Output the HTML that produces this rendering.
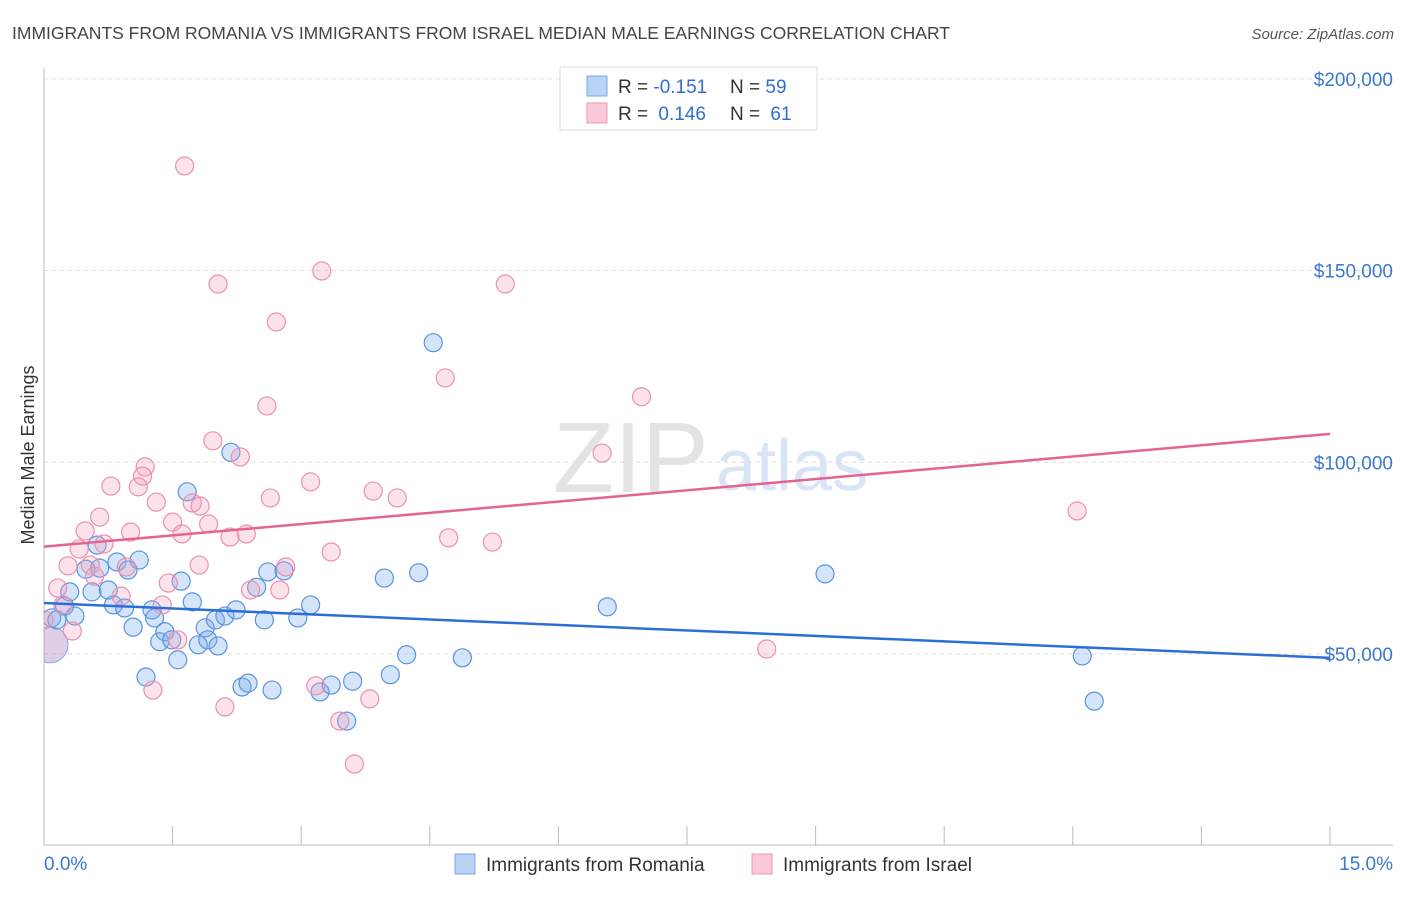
<!DOCTYPE html>
<html><head><meta charset="utf-8"><style>
body{margin:0;background:#fff;font-family:"Liberation Sans",sans-serif;}
svg text{font-family:"Liberation Sans",sans-serif;}
</style></head><body>
<svg id="chart" width="1406" height="892" xmlns="http://www.w3.org/2000/svg">
<defs><clipPath id="plotclip"><rect x="44" y="60" width="1360" height="786"/></clipPath></defs>
<text x="12" y="39" font-size="17.5" fill="#444">IMMIGRANTS FROM ROMANIA VS IMMIGRANTS FROM ISRAEL MEDIAN MALE EARNINGS CORRELATION CHART</text>
<text x="1394" y="39" font-size="15" fill="#555" font-style="italic" text-anchor="end">Source: ZipAtlas.com</text>
<g>
<text x="553" y="492" font-size="100" fill="#ddd" font-family="Liberation Serif" opacity="0.8">ZIP</text>
<text x="716" y="490" font-size="72" fill="#c9daf0" opacity="0.7">atlas</text>
</g>
<g id="grid"></g>
<g id="axes"></g>
<g id="marks" clip-path="url(#plotclip)"></g>
<text transform="translate(34,455) rotate(-90)" font-size="18" fill="#333" text-anchor="middle">Median Male Earnings</text>
<g>
<rect x="560" y="67" width="257" height="63" fill="#fff" stroke="#ddd"/>
<rect x="587" y="76" width="20" height="20" fill="#b9d3f5" stroke="#7aa7e6"/>
<rect x="587" y="103" width="20" height="20" fill="#f9c9d7" stroke="#eb9bb5"/>
<text x="618" y="93" font-size="19" fill="#333">R = <tspan fill="#2f6fd0">-0.151</tspan></text>
<text x="730" y="93" font-size="19" fill="#333">N = <tspan fill="#2f6fd0">59</tspan></text>
<text x="618" y="120" font-size="19" fill="#333">R = <tspan fill="#2f6fd0" dx="5">0.146</tspan></text>
<text x="730" y="120" font-size="19" fill="#333">N = <tspan fill="#2f6fd0" dx="5">61</tspan></text>
</g>
<g>
<rect x="455" y="854" width="20" height="20" fill="#b9d3f5" stroke="#7aa7e6"/>
<text x="486" y="871" font-size="19" fill="#333">Immigrants from Romania</text>
<rect x="752" y="854" width="20" height="20" fill="#f9c9d7" stroke="#eb9bb5"/>
<text x="783" y="871" font-size="19" fill="#333">Immigrants from Israel</text>
</g>
</svg>
<script>
const romaniaX=[0.09,0.15,0.24,0.30,0.36,0.49,0.56,0.62,0.65,0.75,0.81,0.85,0.94,0.98,1.04,1.11,1.19,1.26,1.29,1.35,1.41,1.49,1.56,1.60,1.67,1.73,1.80,1.88,1.91,2.00,2.03,2.11,2.18,2.24,2.31,2.38,2.48,2.57,2.61,2.66,2.80,2.96,3.11,3.22,3.35,3.53,3.60,3.97,4.04,4.23,4.37,4.54,4.88,6.57,9.11,12.11,12.25];
const romaniaY=[59.4,58.9,62.5,66.2,59.9,72.1,66.2,78.4,72.4,66.7,62.8,74.0,62.0,71.9,57.0,74.5,44.0,61.5,59.4,53.2,55.8,53.7,48.5,69.0,92.3,63.6,52.4,56.8,53.7,58.9,52.1,59.9,102.6,61.5,41.4,42.4,67.4,58.9,71.4,40.6,71.7,59.4,62.8,40.1,41.9,32.5,42.9,69.8,44.6,49.8,71.2,131.2,49.0,62.3,70.9,49.5,37.7];
const israelX=[1.64,2.03,3.24,5.38,2.71,4.68,6.97,2.60,1.97,2.29,6.51,1.18,1.15,1.10,0.78,1.31,1.73,1.82,0.65,1.50,1.92,0.48,1.01,1.61,2.17,2.36,3.11,3.84,4.12,2.64,4.72,5.23,3.35,0.41,0.70,12.05,0.28,0.54,0.96,2.82,1.81,1.45,0.16,0.59,2.41,2.75,0.90,1.38,0.22,0.33,1.56,0.0,8.43,1.27,3.17,3.80,2.11,3.45,3.62];
const israelY=[177.3,146.5,149.9,146.5,136.6,122.0,117.1,114.7,105.6,101.4,102.4,98.8,96.4,93.6,93.8,89.6,89.4,88.6,85.7,84.4,83.9,82.1,81.8,81.3,80.5,81.3,94.9,92.5,90.7,90.7,80.3,79.2,76.6,77.4,78.7,87.3,73.0,73.2,72.7,72.7,73.2,68.5,67.2,70.3,66.7,66.7,65.1,62.8,62.8,56.0,53.7,58.9,51.3,40.6,41.7,38.3,36.2,32.5,21.3];
const bigPointX=[0.0];
const bigPointY=[52.4];
const romaniaTrend=[63.3,49.0];
const israelTrend=[78.0,107.4];
const yTicks=[50,100,150,200];
const yTickLabels=["$50,000","$100,000","$150,000","$200,000"];
const xTickCount=10;
const xTickLabels=["0.0%","15.0%"];

const NS="http://www.w3.org/2000/svg";
function xs(v){return 44+v/15*1286;}
function ys(v){return 845.7-v*3.834;}
function mk(tag,attrs,parent){const e=document.createElementNS(NS,tag);for(const k in attrs)e.setAttribute(k,attrs[k]);parent.appendChild(e);return e;}
const grid=document.getElementById('grid'),axes=document.getElementById('axes'),marks=document.getElementById('marks');
yTicks.forEach((t,i)=>{
 const l=mk('line',{x1:44,x2:1393,y1:ys(t),y2:ys(t),stroke:'#ddd','stroke-dasharray':'4,4'},grid);
 
 
 const tx=mk('text',{x:1393,y:ys(t)+7+ (t===200?0:0),'font-size':19,fill:'#3a78d0','text-anchor':'end'},axes);
 
 
 tx.textContent=yTickLabels[i];
});
const ax=mk('line',{x1:44,x2:44,y1:68,y2:845,stroke:'#bbb'},axes);


const bx=mk('line',{x1:44,x2:1393,y1:845,y2:845,stroke:'#bbb'},axes);


for(let i=1;i<=xTickCount;i++){
 const v=15*i/xTickCount;
 const t=mk('line',{x1:xs(v),x2:xs(v),y1:826,y2:845,stroke:'#bbb'},axes);
 
 
}
const xl0=mk('text',{x:44,y:870,'font-size':19,fill:'#3a78d0'},axes);


xl0.textContent=xTickLabels[0];
const xl1=mk('text',{x:1393,y:870,'font-size':19,fill:'#3a78d0','text-anchor':'end'},axes);


xl1.textContent=xTickLabels[1];

bigPointX.forEach((v,i)=>{
 const c=mk('circle',{cx:xs(v)+6,cy:ys(bigPointY[i]),r:18,fill:'rgba(180,150,200,0.45)',stroke:'#8fa6dd'},marks);
 
 
});
romaniaX.forEach((v,i)=>{
 const c=mk('circle',{cx:xs(v),cy:ys(romaniaY[i]),r:9,fill:'rgba(120,170,235,0.32)',stroke:'#5b93e0','stroke-width':1.2},marks);
 
 
});
israelX.forEach((v,i)=>{
 const c=mk('circle',{cx:xs(v),cy:ys(israelY[i]),r:9,fill:'rgba(245,160,190,0.3)',stroke:'#ea91ae','stroke-width':1.2},marks);
 
 
});
const rt=mk('line',{x1:xs(0),y1:ys(romaniaTrend[0]),x2:xs(15),y2:ys(romaniaTrend[1]),stroke:'#2b6fd6','stroke-width':2.5},marks);


const it=mk('line',{x1:xs(0),y1:ys(israelTrend[0]),x2:xs(15),y2:ys(israelTrend[1]),stroke:'#e4648f','stroke-width':2.5},marks);


</script>
</body></html>
